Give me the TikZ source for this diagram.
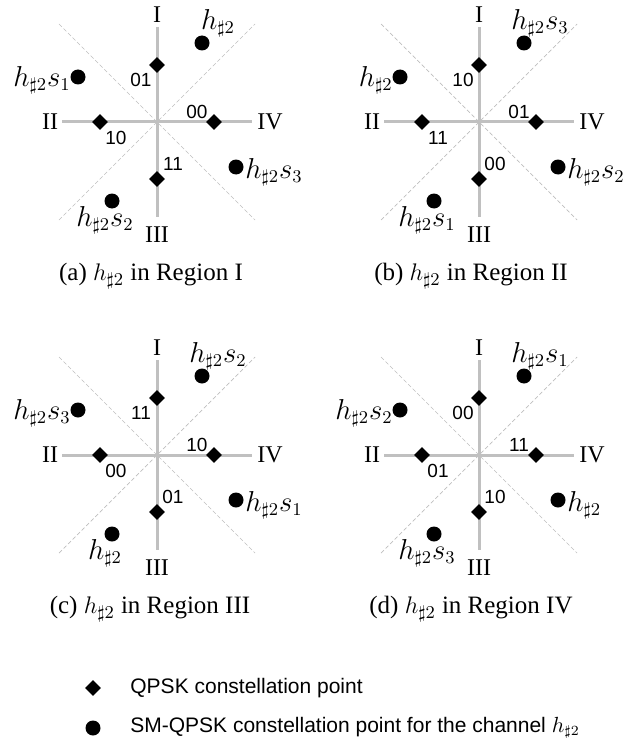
\documentclass[tikz,border=0pt]{standalone}
\usepackage{fontspec}
\setmainfont{Liberation Serif}
\setsansfont{Liberation Sans}
\usetikzlibrary{shapes.geometric}
\definecolor{axisgray}{RGB}{192,192,192}
\definecolor{diaggray}{RGB}{190,190,190}
\tikzset{
  axisline/.style={draw=axisgray, line width=1.5pt},
  diagline/.style={draw=diaggray, line width=0.35pt, dash pattern=on 2pt off 1.2pt},
  qpsk/.style={diamond, fill=black, inner sep=0pt, minimum size=8pt},
  smpt/.style={circle, fill=black, inner sep=0pt, minimum size=7.5pt},
  roman/.style={font=\fontsize{12}{14}\selectfont, inner sep=0pt},
  bits/.style={font=\sffamily\fontsize{9.5}{11}\selectfont, inner sep=0pt},
  hlab/.style={font=\fontsize{13.5}{16}\selectfont, inner sep=0pt},
  captext/.style={font=\fontsize{12.5}{15}\selectfont, inner sep=0pt},
  legtext/.style={font=\sffamily\fontsize{10.5}{12}\selectfont, anchor=west, inner sep=0pt},
}
\newcommand\hs{h_{\sharp 2}}
% #1 prefix, #2 cx, #3 cy, #4 top bit, #5 right bit, #6 left bit, #7 bottom bit
\newcommand\axespanel[7]{%
  \begin{scope}[shift={(#2,#3)}]
    \coordinate (#1dA) at (-98,-98);
    \coordinate (#1dB) at (98,98);
    \coordinate (#1dC) at (-98,98);
    \coordinate (#1dD) at (98,-98);
    \coordinate (#1aT) at (0,-95);
    \coordinate (#1aB) at (0,95);
    \coordinate (#1aL) at (-95,0);
    \coordinate (#1aR) at (95,0);
    \draw[diagline] (#1dA) -- (#1dB);
    \draw[diagline] (#1dC) -- (#1dD);
    \draw[axisline] (#1aT) -- (#1aB);
    \draw[axisline] (#1aL) -- (#1aR);
    \node[roman] (#1I) at (0,-107) {I};
    \node[roman] (#1III) at (0,113) {III};
    \node[roman] (#1II) at (-107,0) {II};
    \node[roman] (#1IV) at (113,0) {IV};
    \node[qpsk] (#1qt) at (0,-57) {};
    \node[qpsk] (#1qr) at (57,0) {};
    \node[qpsk] (#1ql) at (-57,0) {};
    \node[qpsk] (#1qb) at (0,57) {};
    \node[bits] (#1bt) at (-16,-42) {#4};
    \node[bits] (#1br) at (40,-10) {#5};
    \node[bits] (#1bl) at (-41,16) {#6};
    \node[bits] (#1bb) at (16,42) {#7};
  \end{scope}}
% #1 prefix, #2 cx, #3 cy, #4 TR label, #5 TL label, #6 BL label, #7 BR label
\newcommand\smpanel[7]{%
  \begin{scope}[shift={(#2,#3)}]
    \node[smpt] (#1cTR) at (45,-79) {};
    \node[smpt] (#1cTL) at (-79,-45) {};
    \node[smpt] (#1cBL) at (-45,79) {};
    \node[smpt] (#1cBR) at (79,45) {};
    \node[hlab] (#1lTR) at (61,-99) {#4};
    \node[hlab, anchor=east] (#1lTL) at (-86,-42) {#5};
    \node[hlab] (#1lBL) at (-52,98) {#6};
    \node[hlab, anchor=west] (#1lBR) at (88,50) {#7};
  \end{scope}}
\begin{document}
\begin{tikzpicture}[x=0.5pt, y=-0.5pt]
  \path[use as bounding box] (0,0) rectangle (632,749);
  % (a)
  \axespanel{a}{157}{122}{01}{00}{10}{11}
  \smpanel{a}{157}{122}{$\hs$}{$\hs s_1$}{$\hs s_2$}{$\hs s_3$}
  \node[captext] (capa) at (151,276) {(a) $\hs$ in Region I};
  % (b)
  \axespanel{b}{479}{122}{10}{01}{11}{00}
  \smpanel{b}{479}{122}{$\hs s_3$}{$\hs$}{$\hs s_1$}{$\hs s_2$}
  \node[captext] (capb) at (471,276) {(b) $\hs$ in Region II};
  % (c)
  \axespanel{c}{157}{455}{11}{10}{00}{01}
  \smpanel{c}{157}{455}{$\hs s_2$}{$\hs s_3$}{$\hs$}{$\hs s_1$}
  \node[captext] (capc) at (150,609) {(c) $\hs$ in Region III};
  % (d)
  \axespanel{d}{479}{455}{00}{11}{01}{10}
  \smpanel{d}{479}{455}{$\hs s_1$}{$\hs s_2$}{$\hs s_3$}{$\hs$}
  \node[captext] (capd) at (471,609) {(d) $\hs$ in Region IV};
  % legend
  \node[qpsk] (legq) at (93,688) {};
  \node[legtext] (legqt) at (130,688) {QPSK constellation point};
  \node[smpt] (legc) at (93,728) {};
  \node[legtext] (legct) at (130,728) {SM-QPSK constellation point for the channel $\hs$};
\end{tikzpicture}
\end{document}
